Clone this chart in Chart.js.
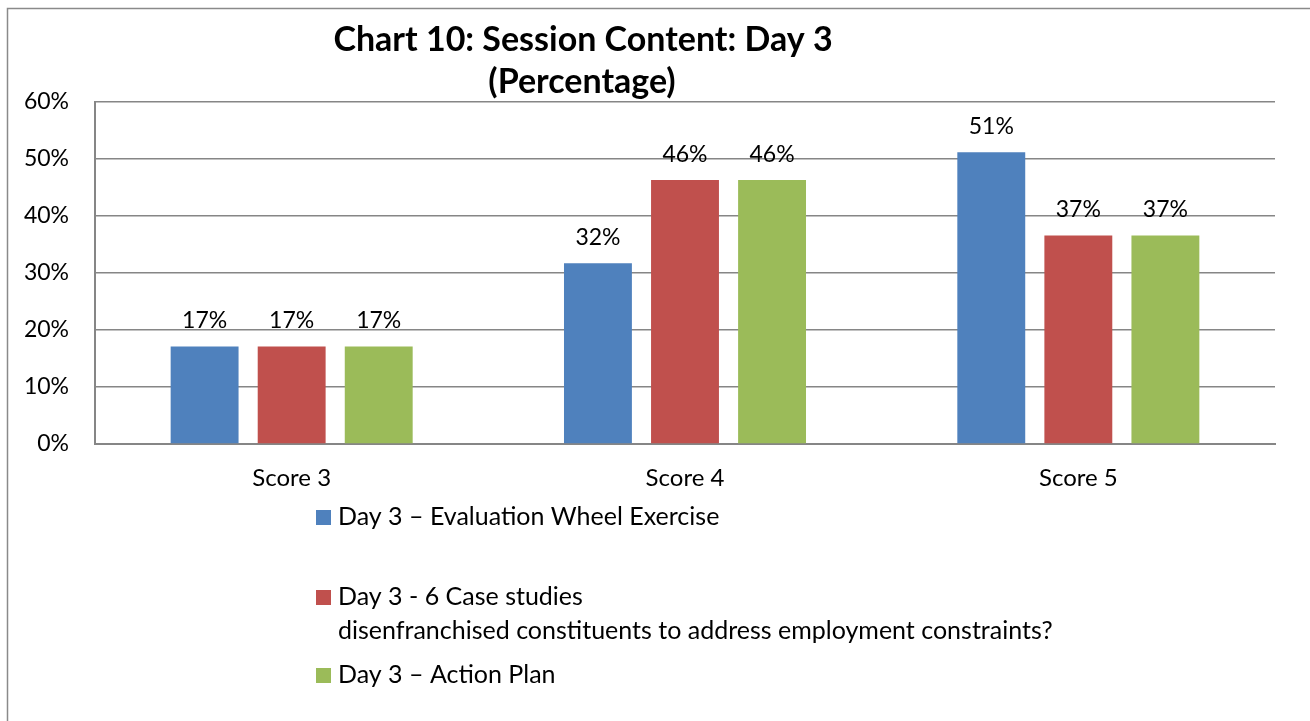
<!DOCTYPE html>
<html>
<head>
<meta charset="utf-8">
<script src="https://cdn.jsdelivr.net/npm/chart.js@4.4.1/dist/chart.umd.min.js"></script>
<style>
  html, body { margin: 0; padding: 0; background: #ffffff; }
  #wrap { position: relative; width: 1310px; height: 721px; }
  canvas { display: block; }
</style>
</head>
<body>
<div id="wrap"><canvas id="c" width="1310" height="721"></canvas></div>
<script>
const titleLines = ['Chart 10: Session Content: Day 3', '(Percentage)'];
const categories = ['Score 3', 'Score 4', 'Score 5'];
const seriesLabels = [
  ['Day 3 \u2013 Evaluation Wheel Exercise'],
  ['Day 3 - 6 Case studies', 'disenfranchised constituents to address employment constraints?'],
  ['Day 3 \u2013 Action Plan']
];
const evaluationWheel = [17.1, 31.7, 51.2];
const caseStudies = [17.1, 46.3, 36.6];
const actionPlan = [17.1, 46.3, 36.6];
const yTicks = [0, 10, 20, 30, 40, 50, 60];
const seriesColors = ['#4F81BD', '#C0504D', '#9BBB59'];

const FONT = 'Lato, "Open Sans", "DejaVu Sans", sans-serif';
const GRID = '#868686';

const framePlugin = {
  id: 'frame',
  beforeDraw(chart) {
    const ctx = chart.ctx;
    ctx.save();
    ctx.strokeStyle = '#8a8a8a';
    ctx.lineWidth = 1.5;
    ctx.beginPath();
    ctx.moveTo(7.5, chart.height);
    ctx.lineTo(7.5, 8.5);
    ctx.lineTo(chart.width, 8.5);
    ctx.stroke();
    ctx.restore();
  }
};

const titlePlugin = {
  id: 'customTitle',
  afterDraw(chart) {
    const ctx = chart.ctx;
    ctx.save();
    ctx.fillStyle = '#000';
    ctx.font = 'bold 34px ' + FONT;
    ctx.textAlign = 'center';
    ctx.textBaseline = 'middle';
    ctx.fillText(titleLines[0], 583, 40);
    ctx.fillText(titleLines[1], 582, 82);
    ctx.restore();
  }
};

const valueLabelPlugin = {
  id: 'valueLabels',
  afterDatasetsDraw(chart) {
    const ctx = chart.ctx;
    ctx.save();
    ctx.fillStyle = '#000';
    ctx.font = '23px ' + FONT;
    ctx.textAlign = 'center';
    ctx.textBaseline = 'middle';
    chart.data.datasets.forEach((ds, i) => {
      const meta = chart.getDatasetMeta(i);
      meta.data.forEach((bar, j) => {
        ctx.fillText(Math.round(ds.data[j]) + '%', bar.x, bar.y - 26);
      });
    });
    ctx.restore();
  }
};

const legendPlugin = {
  id: 'customLegend',
  afterDraw(chart) {
    const ctx = chart.ctx;
    const rows = [517, 597, 675];
    ctx.save();
    ctx.font = '25px ' + FONT;
    ctx.textAlign = 'left';
    ctx.textBaseline = 'middle';
    chart.data.datasets.forEach((ds, i) => {
      const y = rows[i];
      ctx.fillStyle = ds.backgroundColor;
      ctx.fillRect(316, y - 7, 15, 15);
      ctx.fillStyle = '#000';
      seriesLabels[i].forEach((line, k) => {
        ctx.fillText(line, 338, y + k * 34);
      });
    });
    ctx.restore();
  }
};

new Chart(document.getElementById('c'), {
  type: 'bar',
  data: {
    labels: categories,
    datasets: [
      { label: seriesLabels[0].join(' '), data: evaluationWheel, backgroundColor: seriesColors[0] },
      { label: seriesLabels[1].join(' '), data: caseStudies, backgroundColor: seriesColors[1] },
      { label: seriesLabels[2].join(' '), data: actionPlan, backgroundColor: seriesColors[2] }
    ]
  },
  options: {
    responsive: false,
    animation: false,
    layout: { padding: { top: 102, right: 35, bottom: 217, left: 0 } },
    datasets: { bar: { categoryPercentage: 0.664, barPercentage: 0.78 } },
    plugins: {
      legend: { display: false },
      title: { display: false },
      tooltip: { enabled: false }
    },
    scales: {
      x: {
        grid: { display: false, drawTicks: false },
        border: { display: true, color: GRID, width: 2 },
        ticks: { color: '#000', font: { family: FONT, size: 24 }, padding: 20 },
        afterFit(scale) { scale.height = 60; }
      },
      y: {
        min: 0,
        max: 60,
        afterBuildTicks(scale) { scale.ticks = yTicks.map(v => ({ value: v })); },
        grid: { color: GRID, lineWidth: 1.5, drawTicks: false },
        border: { display: true, color: GRID, width: 2 },
        ticks: {
          color: '#000',
          font: { family: FONT, size: 23 },
          padding: 26,
          callback: v => v + '%'
        },
        afterFit(scale) { scale.width = 95; }
      }
    }
  },
  plugins: [framePlugin, titlePlugin, valueLabelPlugin, legendPlugin]
});
</script>
</body>
</html>
